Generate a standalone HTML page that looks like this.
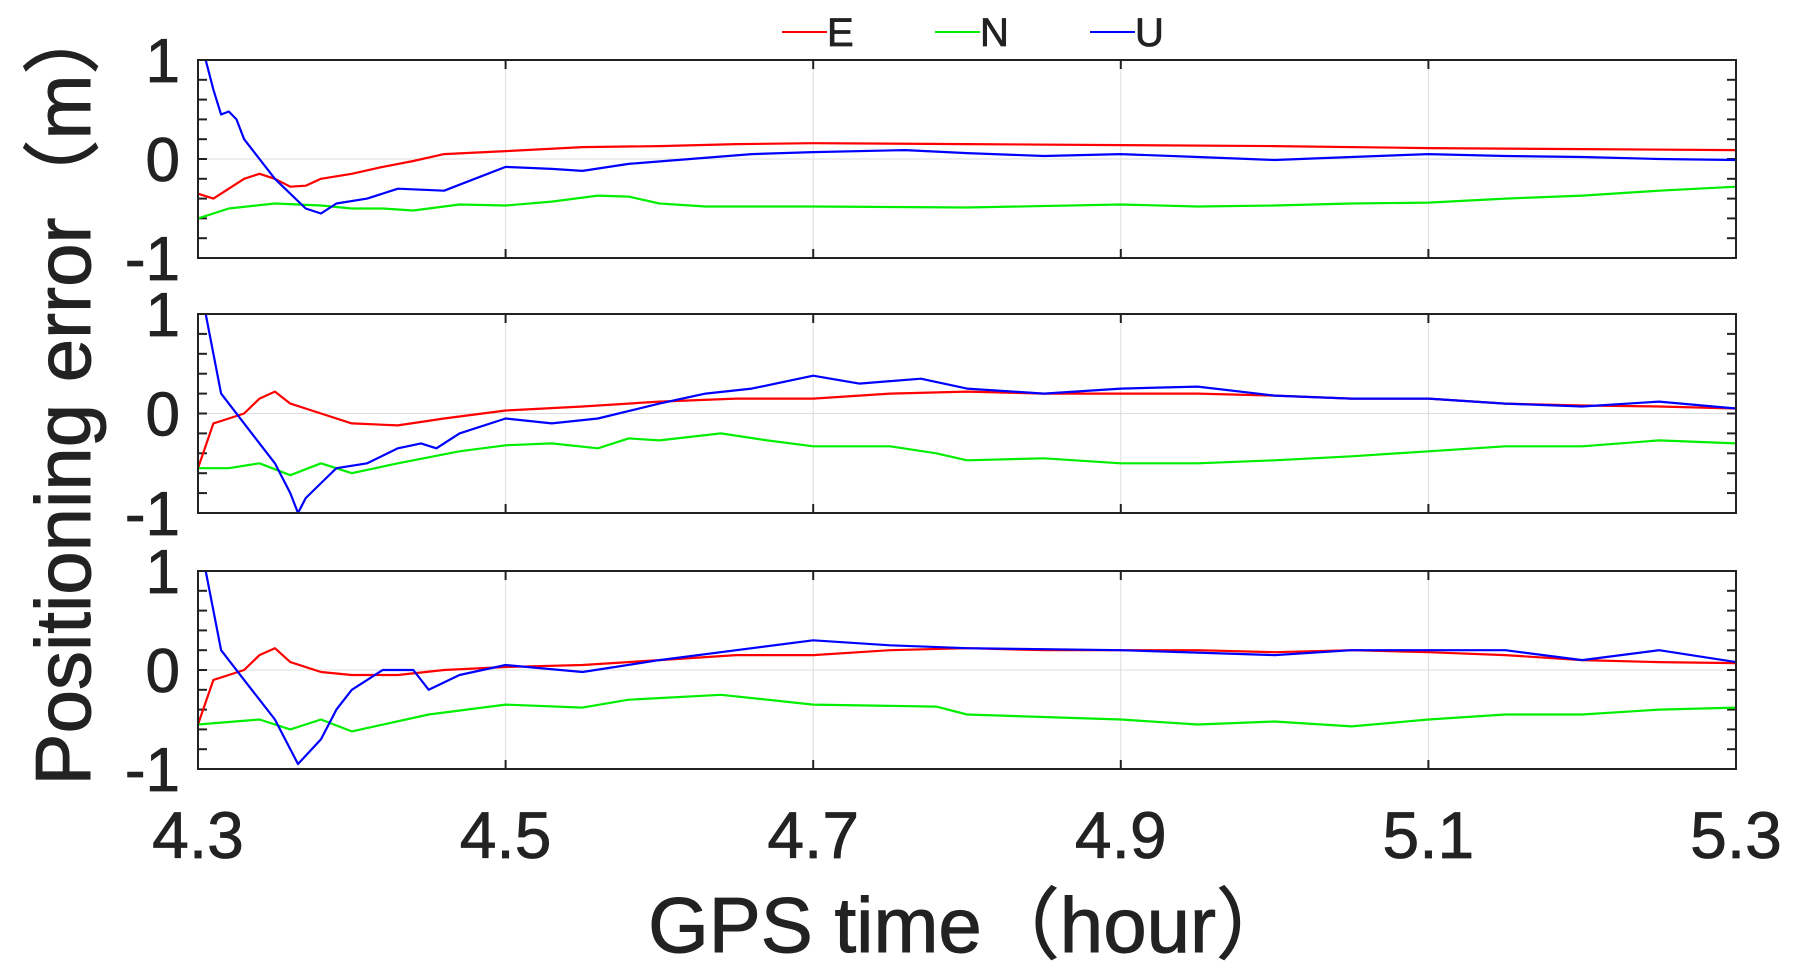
<!DOCTYPE html>
<html><head><meta charset="utf-8"><style>
html,body{margin:0;padding:0;background:#fff;}
svg{display:block;}
text{font-family:"Liberation Sans","Noto Sans CJK SC",sans-serif;fill:#222;}
</style></head><body>
<svg id="chart" width="1805" height="976" viewBox="0 0 1805 976" xmlns="http://www.w3.org/2000/svg">
<g id="legend">
  <g><line x1="782" y1="32" x2="827" y2="32" stroke="#ff0000" stroke-width="2"/><text x="827" y="46" font-size="40" stroke="#222" stroke-width="0.8">E</text></g>
  <g><line x1="935" y1="32" x2="980" y2="32" stroke="#00ee00" stroke-width="2"/><text x="980" y="46" font-size="40" stroke="#222" stroke-width="0.8">N</text></g>
  <g><line x1="1090" y1="32" x2="1135" y2="32" stroke="#0000ff" stroke-width="2"/><text x="1135" y="46" font-size="40" stroke="#222" stroke-width="0.8">U</text></g>
</g>
<text transform="translate(90,391) rotate(-90)" text-anchor="middle" font-size="78" stroke="#222" stroke-width="1">Positioning error（m）</text>
<text x="971" y="952" text-anchor="middle" font-size="78" stroke="#222" stroke-width="1">GPS time（hour）</text>
</svg>
<script>
// shared axis data
const xTicks = [4.3, 4.5, 4.7, 4.9, 5.1, 5.3];
const yTickLabels = [1, 0, -1];

// panel 1
const p1E_t = [4.30,4.31,4.32,4.33,4.34,4.35,4.36,4.37,4.38,4.40,4.42,4.44,4.46,4.50,4.55,4.60,4.65,4.70,4.80,4.90,5.00,5.10,5.20,5.30];
const p1E_v = [-0.35,-0.40,-0.30,-0.20,-0.15,-0.20,-0.28,-0.27,-0.20,-0.15,-0.08,-0.02,0.05,0.08,0.12,0.13,0.15,0.16,0.15,0.14,0.13,0.11,0.10,0.09];
const p1N_t = [4.30,4.32,4.35,4.38,4.40,4.42,4.44,4.47,4.50,4.53,4.56,4.58,4.60,4.63,4.70,4.80,4.90,4.95,5.00,5.05,5.10,5.15,5.20,5.25,5.30];
const p1N_v = [-0.60,-0.50,-0.45,-0.47,-0.50,-0.50,-0.52,-0.46,-0.47,-0.43,-0.37,-0.38,-0.45,-0.48,-0.48,-0.49,-0.46,-0.48,-0.47,-0.45,-0.44,-0.40,-0.37,-0.32,-0.28];
const p1U_t = [4.305,4.31,4.315,4.32,4.325,4.33,4.34,4.35,4.36,4.37,4.38,4.39,4.41,4.43,4.46,4.48,4.50,4.53,4.55,4.58,4.62,4.66,4.70,4.76,4.80,4.85,4.90,4.95,5.00,5.05,5.10,5.15,5.20,5.25,5.30];
const p1U_v = [1.0,0.70,0.45,0.48,0.40,0.20,0.0,-0.20,-0.35,-0.50,-0.55,-0.45,-0.40,-0.30,-0.32,-0.20,-0.08,-0.10,-0.12,-0.05,0.0,0.05,0.07,0.09,0.06,0.03,0.05,0.02,-0.01,0.02,0.05,0.03,0.02,0.0,-0.01];

// panel 2
const p2E_t = [4.30,4.31,4.32,4.33,4.34,4.35,4.36,4.38,4.40,4.43,4.46,4.50,4.55,4.60,4.65,4.70,4.75,4.80,4.85,4.90,4.95,5.00,5.05,5.10,5.15,5.20,5.25,5.30];
const p2E_v = [-0.55,-0.10,-0.05,0.0,0.15,0.22,0.10,0.0,-0.10,-0.12,-0.05,0.03,0.07,0.12,0.15,0.15,0.20,0.22,0.20,0.20,0.20,0.18,0.15,0.15,0.10,0.08,0.07,0.05];
const p2N_t = [4.30,4.32,4.34,4.36,4.38,4.40,4.43,4.47,4.50,4.53,4.56,4.58,4.60,4.64,4.67,4.70,4.75,4.78,4.80,4.85,4.90,4.95,5.00,5.05,5.10,5.15,5.20,5.25,5.30];
const p2N_v = [-0.55,-0.55,-0.50,-0.62,-0.50,-0.60,-0.50,-0.38,-0.32,-0.30,-0.35,-0.25,-0.27,-0.20,-0.27,-0.33,-0.33,-0.40,-0.47,-0.45,-0.50,-0.50,-0.47,-0.43,-0.38,-0.33,-0.33,-0.27,-0.30];
const p2U_t = [4.305,4.31,4.315,4.32,4.33,4.34,4.35,4.36,4.365,4.37,4.38,4.39,4.41,4.43,4.445,4.455,4.47,4.50,4.53,4.56,4.60,4.63,4.66,4.70,4.73,4.77,4.80,4.85,4.90,4.95,5.00,5.05,5.10,5.15,5.20,5.25,5.30];
const p2U_v = [1.0,0.60,0.20,0.10,-0.10,-0.30,-0.50,-0.80,-1.0,-0.85,-0.70,-0.55,-0.50,-0.35,-0.30,-0.35,-0.20,-0.05,-0.10,-0.05,0.10,0.20,0.25,0.38,0.30,0.35,0.25,0.20,0.25,0.27,0.18,0.15,0.15,0.10,0.07,0.12,0.05];

// panel 3
const p3E_t = [4.30,4.31,4.32,4.33,4.34,4.35,4.36,4.38,4.40,4.43,4.46,4.50,4.55,4.60,4.65,4.70,4.75,4.80,4.85,4.90,4.95,5.00,5.05,5.10,5.15,5.20,5.25,5.30];
const p3E_v = [-0.55,-0.10,-0.05,0.0,0.15,0.22,0.08,-0.02,-0.05,-0.05,0.0,0.03,0.05,0.10,0.15,0.15,0.20,0.22,0.20,0.20,0.20,0.18,0.20,0.18,0.15,0.10,0.08,0.07];
const p3N_t = [4.30,4.34,4.36,4.38,4.40,4.45,4.50,4.55,4.58,4.64,4.70,4.78,4.80,4.90,4.95,5.00,5.05,5.10,5.15,5.20,5.25,5.30];
const p3N_v = [-0.55,-0.50,-0.60,-0.50,-0.62,-0.45,-0.35,-0.38,-0.30,-0.25,-0.35,-0.37,-0.45,-0.50,-0.55,-0.52,-0.57,-0.50,-0.45,-0.45,-0.40,-0.38];
const p3U_t = [4.305,4.31,4.315,4.33,4.35,4.365,4.38,4.39,4.40,4.42,4.44,4.45,4.47,4.50,4.55,4.60,4.65,4.70,4.75,4.80,4.90,5.00,5.05,5.10,5.15,5.20,5.25,5.30];
const p3U_v = [1.0,0.60,0.20,-0.10,-0.50,-0.95,-0.70,-0.40,-0.20,0.0,0.0,-0.20,-0.05,0.05,-0.02,0.10,0.20,0.30,0.25,0.22,0.20,0.15,0.20,0.20,0.20,0.10,0.20,0.08];

const panels = [
  {top:60, bottom:258, series:[[p1E_t,p1E_v,'#ff0000','e'],[p1N_t,p1N_v,'#00ee00','n'],[p1U_t,p1U_v,'#0000ff','u']]},
  {top:314, bottom:513, series:[[p2E_t,p2E_v,'#ff0000','e'],[p2N_t,p2N_v,'#00ee00','n'],[p2U_t,p2U_v,'#0000ff','u']]},
  {top:571, bottom:769, series:[[p3E_t,p3E_v,'#ff0000','e'],[p3N_t,p3N_v,'#00ee00','n'],[p3U_t,p3U_v,'#0000ff','u']]}
];
const X0=198, X1=1736, T0=4.3, T1=5.3;
const NS='http://www.w3.org/2000/svg';
const svg=document.getElementById('chart');
function xs(t){return X0+(t-T0)/(T1-T0)*(X1-X0);}
function mk(tag,attrs){const e=document.createElementNS(NS,tag);for(const k in attrs)e.setAttribute(k,attrs[k]);return e;}

panels.forEach((p,pi)=>{
  const ys=v=>p.top+(1-v)/2*(p.bottom-p.top);
  const g=mk('g',{});
  
  
  svg.appendChild(g);
  xTicks.slice(1,-1).forEach(t=>{
    const l=mk('line',{x1:xs(t),x2:xs(t),y1:p.top,y2:p.bottom,stroke:'#dddddd','stroke-width':1});
    
    
    g.appendChild(l);
  });
  const zl=mk('line',{x1:X0,x2:X1,y1:ys(0),y2:ys(0),stroke:'#dddddd','stroke-width':1});
  
  
  g.appendChild(zl);
  for(let k=-4;k<=4;k++){
    const v=k*0.2;
    [[X0,X0+9],[X1-9,X1]].forEach(([a,b])=>{
      const tk=mk('line',{x1:a,x2:b,y1:ys(v),y2:ys(v),stroke:'#222','stroke-width':2});
      
      
      g.appendChild(tk);
    });
  }
  xTicks.forEach(t=>{
    [[p.bottom-9,p.bottom],[p.top,p.top+9]].forEach(([a,b])=>{
      const tk=mk('line',{x1:xs(t),x2:xs(t),y1:a,y2:b,stroke:'#222','stroke-width':2});
      
      
      g.appendChild(tk);
    });
  });
  p.series.forEach(([ts,vs,col,nm])=>{
    const d=ts.map((t,i)=>(i?'L':'M')+xs(t).toFixed(1)+','+ys(vs[i]).toFixed(1)).join('');
    const path=mk('path',{d:d,fill:'none',stroke:col,'stroke-width':2.2,'stroke-linejoin':'round'});
    
    
    g.appendChild(path);
  });
  const fr=mk('rect',{x:X0,y:p.top,width:X1-X0,height:p.bottom-p.top,fill:'none',stroke:'#222','stroke-width':2});
  
  
  g.appendChild(fr);
  yTickLabels.forEach(v=>{
    const tx=mk('text',{x:180,y:ys(v)+22,'text-anchor':'end','font-size':62,stroke:'#222','stroke-width':0.8});
    tx.textContent=String(v);
    
    
    g.appendChild(tx);
  });
});
xTicks.forEach(t=>{
  const tx=mk('text',{x:xs(t),y:858,'text-anchor':'middle','font-size':66,stroke:'#222','stroke-width':0.8});
  tx.textContent=t.toFixed(1);
  
  
  svg.appendChild(tx);
});
</script>
</body></html>
